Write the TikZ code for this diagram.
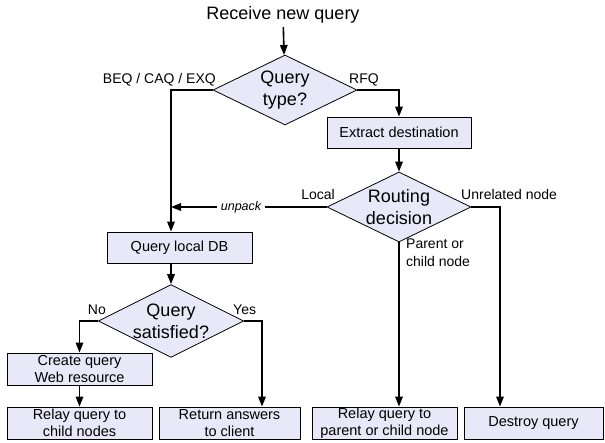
\documentclass[tikz,border=0pt]{standalone}
\usepackage{fontspec}
\setmainfont{Liberation Sans}
\usetikzlibrary{shapes.geometric,arrows.meta}
\definecolor{stepfill}{RGB}{232,232,248}
\tikzset{
  stepbox/.style={draw, fill=stepfill, line width=0.8pt, minimum height=31pt, inner sep=0pt, align=center, font=\fontsize{14.5}{17}\selectfont},
  choice/.style={diamond, aspect=2, draw, fill=stepfill, line width=0.8pt, minimum width=144pt, minimum height=70pt, inner sep=0pt, align=center, font=\fontsize{18}{22}\selectfont},
  flow/.style={-{Triangle[length=10pt,width=7.5pt]}, line width=1.6pt},
  branch/.style={inner sep=0pt, font=\fontsize{14}{18}\selectfont},
}
\begin{document}
\begin{tikzpicture}[x=1pt,y=-1pt]
                \useasboundingbox (0,0) rectangle (605,443);

                % Start and first decision
                \node[font=\fontsize{18}{22}\selectfont] (start) at (283,15) {Receive new query};
                \node[choice] (qtype) at (285,90) {Query\\type?};
                \node[stepbox, minimum width=144pt] (extract) at (399,132.5) {Extract destination};
                \node[choice] (route) at (399,207) {Routing\\decision};

                % Local branch
                \node[stepbox, minimum width=145pt] (localdb) at (179.5,247.5) {Query local DB};
                \node[choice] (satisfied) at (171,321) {Query\\satisfied?};
                \node[stepbox, minimum width=145pt, minimum height=32pt] (create) at (79.5,369) {Create query\\Web resource};

                % Bottom row
                \node[stepbox, minimum width=145pt, minimum height=32pt] (relaychild) at (79.5,423) {Relay query to\\child nodes};
                \node[stepbox, minimum width=141pt, minimum height=32pt] (answers) at (229.5,423) {Return answers\\to client};
                \node[stepbox, minimum width=145pt, minimum height=32pt] (relayparent) at (384.5,423) {Relay query to\\parent or child node};
                \node[stepbox, minimum width=139pt, minimum height=32pt] (destroy) at (533.5,423) {Destroy query};

                % Branch labels
                \node[branch, anchor=east] (lbeq) at (216,80) {BEQ / CAQ / EXQ};
                \node[branch, anchor=west] (lrfq) at (349,80) {RFQ};
                \node[branch, anchor=east] (llocal) at (335,194) {Local};
                \node[branch, anchor=west] (lunrel) at (461,194) {Unrelated node};
                \node[branch, anchor=north west, align=left] (lparent) at (406,239) {Parent or\\child node};
                \node[branch, anchor=east] (lno) at (106,310) {No};
                \node[branch, anchor=west] (lyes) at (233,310) {Yes};

                % Connectors
                \draw[flow] (start) -- (qtype);
                \draw[flow] (qtype.east) -| (extract.north);
                \draw[flow] (qtype.west) -| ([xshift=-8.5pt]localdb.north);
                \draw[flow] (extract) -- (route);
                \draw[flow] (route.west) -- (route.west -| satisfied.north)
                    node[pos=0.55, fill=white, inner sep=4pt, font=\fontsize{12.5}{14}\itshape] {unpack};
                \draw[flow] (localdb.south -| satisfied.north) -- (satisfied.north);
                \draw[flow] (satisfied.west) -| (create.north);
                \draw[flow] (create) -- (relaychild);
                \draw[flow] (satisfied.east) -| ([xshift=32.5pt]answers.north);
                \draw[flow] (route.south) -- (route.south |- relayparent.north);
                \draw[flow] (route.east) -| ([xshift=-33.5pt]destroy.north);

\end{tikzpicture}
\end{document}
